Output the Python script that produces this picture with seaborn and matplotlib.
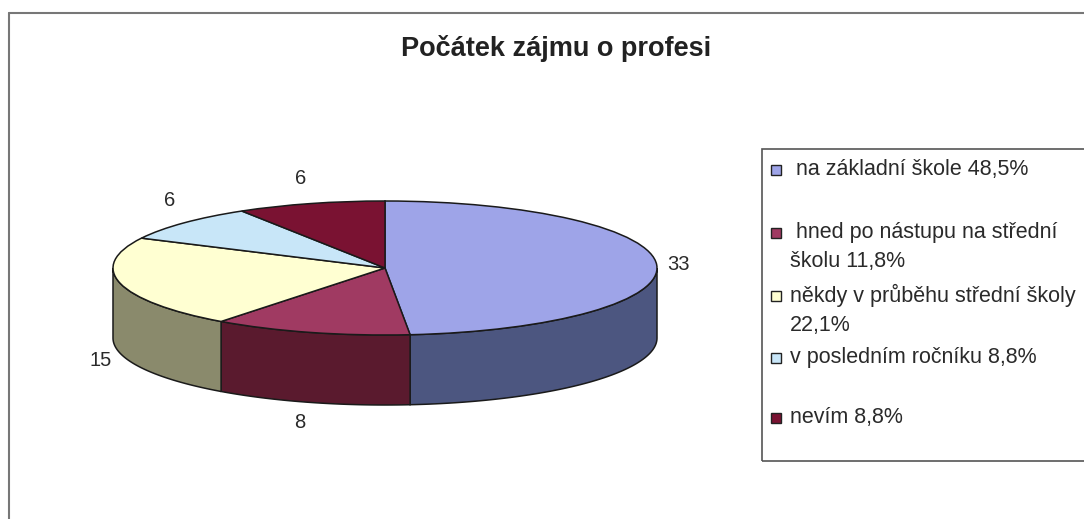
import numpy as np
import matplotlib
matplotlib.use("Agg")
import matplotlib.pyplot as plt
import seaborn as sns
from matplotlib.patches import Rectangle, Polygon
from matplotlib.lines import Line2D

# ---- data ----
title = "Počátek zájmu o profesi"
categories = ["na základní škole", "hned po nástupu na střední škole",
              "někdy v průběhu střední školy", "v posledním ročníku", "nevím"]
values = [33, 8, 15, 6, 6]
legend_labels = [" na základní škole 48,5%", " hned po nástupu na střední\nškolu 11,8%",
                 "někdy v průběhu střední školy\n22,1%", "v posledním ročníku 8,8%",
                 "nevím 8,8%"]
top_colors = ["#9EA4E8", "#A03A62", "#FFFFD2", "#C8E6F8", "#7A1232"]
side_colors = ["#4C5680", "#5A1A2E", "#8A8A6C", "#6A8090", "#40081A"]

sns.set_theme(style="white")
plt.rcParams['font.family'] = ['Liberation Sans', 'DejaVu Sans']

W, H = 1084, 519
fig = plt.figure(figsize=(W / 100, H / 100), dpi=100)
fig.patch.set_facecolor("white")

# pie geometry (pixels)
cx, cy, rx, ry, depth = 385, 268, 272, 67, 70

ax = fig.add_axes([0, 0, 1, 1])
ax.pie(values, startangle=90, counterclock=False, colors=top_colors,
       radius=1, wedgeprops=dict(edgecolor="#1a1a1a", linewidth=1.1, zorder=5))
ax.set_aspect("auto")
ax.set_xlim(-cx / rx, (W - cx) / rx)
ax.set_ylim((cy - H) / ry, cy / ry)
ax.axis("off")

d = depth / ry
tot = sum(values)
start = 90.0
for v, sc in zip(values, side_colors):
    end = start - v / tot * 360.0
    for k in (-1, 0, 1):
        lo = max(end, -180 + 360 * k)
        hi = min(start, 0 + 360 * k)
        if hi > lo:
            t = np.radians(np.linspace(lo, hi, 80))
            top = np.column_stack([np.cos(t), np.sin(t)])
            bot = np.column_stack([np.cos(t[::-1]), np.sin(t[::-1]) - d])
            ax.add_patch(Polygon(np.vstack([top, bot]), closed=True, facecolor=sc,
                                 edgecolor="#1a1a1a", linewidth=1.1, zorder=3))
    start = end

def px(x, y):
    return x / W, 1 - y / H

# value labels
label_pos = [(678, 264), (300, 423), (101, 360), (170, 201), (301, 179)]
for v, (x, y) in zip(values, label_pos):
    fig.text(*px(x, y), str(v), ha="center", va="center", fontsize=14.5, color="#2a2a2a")

fig.text(*px(556, 48), title, ha="center", va="center", fontsize=19.5,
         fontweight="bold", color="#222222")

# legend box
fig.add_artist(Rectangle(px(762, 461), (W + 10 - 762) / W, (461 - 149) / H,
                         transform=fig.transFigure, facecolor="none",
                         edgecolor="#555555", linewidth=1.2))
leg_sq = [170, 233, 296, 358, 418]
text_pos = [(790, 169), (790, 247), (790, 310), (790, 357), (790, 417)]
for i, (lab, c) in enumerate(zip(legend_labels, top_colors)):
    sy = leg_sq[i]
    fig.add_artist(Rectangle(px(771, sy + 5), 10 / W, 10 / H, transform=fig.transFigure,
                             facecolor=c, edgecolor="#222222", linewidth=1))
    tx, ty = text_pos[i]
    fig.text(*px(tx, ty), lab, ha="left", va="center", fontsize=15.5,
             color="#2a2a2a", linespacing=1.45)

# outer chart frame
fig.add_artist(Line2D([9 / W, 1], [1 - 13 / H, 1 - 13 / H], transform=fig.transFigure,
                      color="#777777", linewidth=1.5))
fig.add_artist(Line2D([9 / W, 9 / W], [0, 1 - 13 / H], transform=fig.transFigure,
                      color="#777777", linewidth=1.5))

fig.savefig("out.png", dpi=100, facecolor="white")
